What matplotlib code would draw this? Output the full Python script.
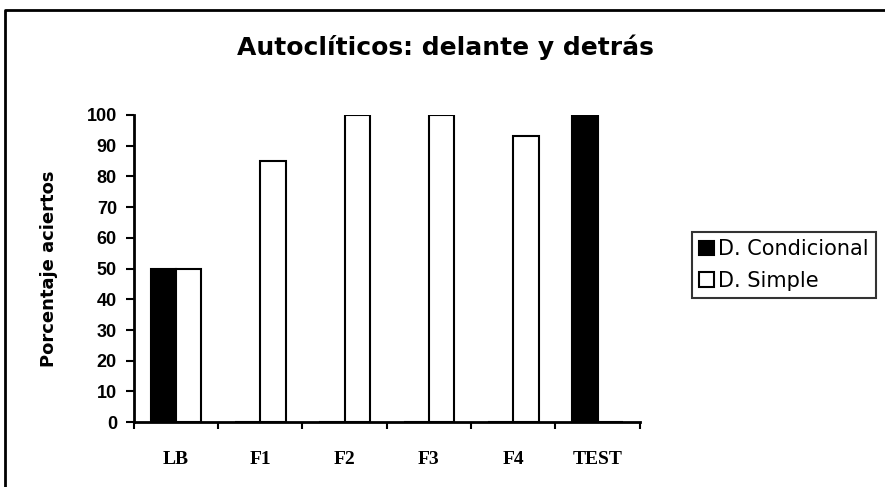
import matplotlib.pyplot as plt
from matplotlib.lines import Line2D
import numpy as np

# data
categories = ['LB', 'F1', 'F2', 'F3', 'F4', 'TEST']
condicional = [50, 0, 0, 0, 0, 100]
simple = [50, 85, 100, 100, 93, 0]

fig = plt.figure(figsize=(8.85, 4.87), dpi=100)
ax = fig.add_axes([0.151, 0.133, 0.572, 0.631])

x = np.arange(len(categories))
w = 0.3
ax.bar(x - w / 2, condicional, w, color='black', edgecolor='black', linewidth=1.5,
       label='D. Condicional')
ax.bar(x + w / 2, simple, w, color='white', edgecolor='black', linewidth=1.5,
       label='D. Simple')

ax.set_xlim(-0.5, len(categories) - 0.5)
ax.set_ylim(0, 100)
ax.set_yticks(range(0, 101, 10))
ax.set_yticklabels([str(v) for v in range(0, 101, 10)],
                   fontfamily='Liberation Sans', fontweight='bold', fontsize=13)

# category ticks sit between groups, labels sit in the middle
ax.set_xticks(np.arange(-0.5, len(categories), 1.0))
ax.set_xticklabels([])
ax.set_xticks(x, minor=True)
ax.set_xticklabels(categories, minor=True, fontfamily='Liberation Serif',
                   fontweight='bold', fontsize=14)
ax.tick_params(axis='x', which='minor', length=0, pad=21)
ax.tick_params(axis='x', which='major', length=5, width=1.5, direction='out')
ax.tick_params(axis='y', length=6, width=1.5, direction='out', pad=6)

for side in ['top', 'right']:
    ax.spines[side].set_visible(False)
for side in ['left', 'bottom']:
    ax.spines[side].set_linewidth(2)

ax.set_ylabel('Porcentaje aciertos', fontfamily='DejaVu Sans',
              fontweight='bold', fontsize=13, labelpad=21)

fig.text(0.503, 0.903, 'Autoclíticos: delante y detrás', ha='center', va='center',
         fontfamily='DejaVu Sans', fontweight='bold', fontsize=18)

leg = fig.legend(loc='upper left', bbox_to_anchor=(0.782, 0.524),
                 frameon=True, fancybox=False, edgecolor='black',
                 prop={'family': 'DejaVu Sans', 'size': 15},
                 handlelength=0.7, handleheight=0.7, handletextpad=0.2,
                 borderpad=0.35, labelspacing=0.55, borderaxespad=0)
leg.get_frame().set_linewidth(1.5)

# outer chart border: only left and top edges show
fig.lines.append(Line2D([0.006, 0.006, 1.0], [0.0, 0.979, 0.979],
                        transform=fig.transFigure, color='black', linewidth=2))

plt.savefig('out.png', dpi=100)
